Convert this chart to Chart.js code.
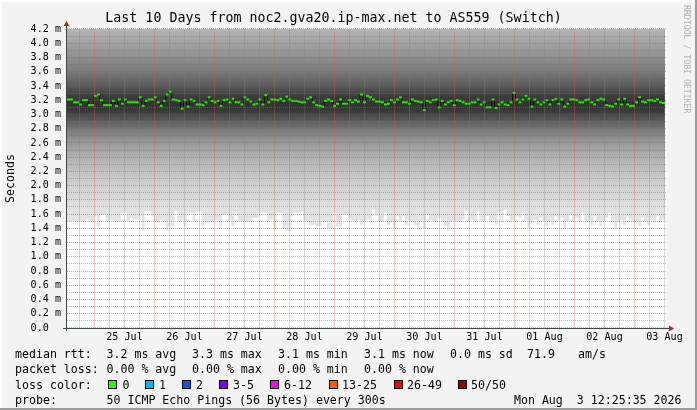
<!DOCTYPE html>
<html>
<head>
<meta charset="utf-8">
<script src="https://cdn.jsdelivr.net/npm/chart.js@4.4.0/dist/chart.umd.min.js"></script>
<style>
html, body { margin: 0; padding: 0; background: #f3f3f3; }
#wrap { position: relative; width: 697px; height: 410px; overflow: hidden; font-family: "DejaVu Sans Mono", monospace; }
#chart { position: absolute; left: 0; top: 0; }
.lg { position: absolute; font-size: 11.6px; line-height: 14px; color: #000; white-space: pre; }
.box { position: absolute; width: 7px; height: 7px; border: 1px solid #000; }
#credit { position: absolute; left: 682px; top: 5px; font-size: 8.2px; color: #b0b0b0; writing-mode: vertical-rl; white-space: pre; }
</style>
</head>
<body>
<div id="wrap">
  <canvas id="chart" width="697" height="410"></canvas>
  <div id="credit">RRDTOOL / TOBI OETIKER</div>

  <div class="lg" style="left:15px;top:346.5px">median rtt:</div>
  <div class="lg" style="left:106.5px;top:346.5px">3.2 ms avg</div>
  <div class="lg" style="left:192px;top:346.5px">3.3 ms max</div>
  <div class="lg" style="left:278px;top:346.5px">3.1 ms min</div>
  <div class="lg" style="left:364px;top:346.5px">3.1 ms now</div>
  <div class="lg" style="left:450px;top:346.5px">0.0 ms sd</div>
  <div class="lg" style="left:527px;top:346.5px">71.9</div>
  <div class="lg" style="left:578px;top:346.5px">am/s</div>

  <div class="lg" style="left:15px;top:362px">packet loss:</div>
  <div class="lg" style="left:106.5px;top:362px">0.00 % avg</div>
  <div class="lg" style="left:192px;top:362px">0.00 % max</div>
  <div class="lg" style="left:278px;top:362px">0.00 % min</div>
  <div class="lg" style="left:364px;top:362px">0.00 % now</div>

  <div class="lg" style="left:15px;top:377.5px">loss color:</div>
  <div id="lossRow"></div>

  <div class="lg" style="left:15px;top:393px">probe:</div>
  <div class="lg" style="left:106.5px;top:393px">50 ICMP Echo Pings (56 Bytes) every 300s</div>
  <div class="lg" style="right:15.5px;top:393px">Mon Aug  3 12:25:35 2026</div>
</div>

<script>
// hours counted from 24 Jul 00:00
var startHour = 13.0;
var slotHours = 1.196;

var xDayLabels = ["25 Jul", "26 Jul", "27 Jul", "28 Jul", "29 Jul", "30 Jul", "31 Jul", "01 Aug", "02 Aug", "03 Aug"];
var yTickLabels = ["0.0  ", "0.2 m", "0.4 m", "0.6 m", "0.8 m", "1.0 m", "1.2 m", "1.4 m", "1.6 m", "1.8 m", "2.0 m",
                   "2.2 m", "2.4 m", "2.6 m", "2.8 m", "3.0 m", "3.2 m", "3.4 m", "3.6 m", "3.8 m", "4.0 m", "4.2 m"];

// median rtt per step (ms)
var medianRtt = [
  3.21,3.21,3.17,3.17,3.14,3.20,3.20,3.13,3.13,3.26,
  3.28,3.20,3.13,3.13,3.13,3.19,3.12,3.21,3.15,3.21,
  3.17,3.17,3.17,3.17,3.24,3.12,3.19,3.21,3.21,3.24,
  3.17,3.12,3.19,3.28,3.32,3.21,3.20,3.19,3.08,3.20,
  3.11,3.21,3.19,3.14,3.14,3.13,3.17,3.24,3.19,3.17,
  3.19,3.12,3.20,3.21,3.17,3.22,3.17,3.17,3.14,3.24,
  3.21,3.18,3.14,3.15,3.21,3.14,3.27,3.17,3.21,3.21,
  3.20,3.22,3.19,3.25,3.21,3.19,3.19,3.18,3.17,3.17,
  3.22,3.24,3.17,3.13,3.12,3.11,3.19,3.21,3.19,3.12,
  3.15,3.21,3.15,3.15,3.20,3.17,3.20,3.18,3.28,3.17,
  3.26,3.24,3.21,3.18,3.18,3.17,3.14,3.15,3.20,3.17,
  3.21,3.24,3.17,3.17,3.15,3.21,3.19,3.18,3.17,3.06,
  3.19,3.17,3.20,3.21,3.10,3.19,3.14,3.17,3.19,3.13,
  3.20,3.19,3.17,3.15,3.15,3.17,3.17,3.21,3.14,3.17,
  3.10,3.10,3.21,3.09,3.14,3.17,3.14,3.13,3.17,3.30,
  3.21,3.17,3.21,3.26,3.22,3.11,3.21,3.17,3.14,3.17,
  3.20,3.14,3.20,3.22,3.15,3.21,3.11,3.15,3.21,3.21,
  3.20,3.17,3.17,3.20,3.21,3.17,3.14,3.20,3.22,3.21,
  3.13,3.12,3.11,3.15,3.21,3.14,3.22,3.14,3.12,3.12,
  3.17,3.24,3.18,3.17,3.20,3.20,3.19,3.21,3.17,3.16
];

// lowest ping per step (ms), the lower edge of the smoke
var minRtt = [
  1.50,1.50,1.50,1.48,1.50,1.50,1.52,1.48,1.48,1.57,
  1.43,1.59,1.59,1.52,1.52,1.50,1.50,1.50,1.62,1.62,
  1.50,1.55,1.52,1.52,1.57,1.36,1.64,1.64,1.57,1.48,
  1.48,1.52,1.52,1.36,1.43,1.43,1.64,1.52,1.52,1.43,
  1.62,1.62,1.52,1.64,1.64,1.43,1.48,1.48,1.48,1.52,
  1.52,1.43,1.59,1.59,1.52,1.43,1.62,1.50,1.50,1.48,
  1.48,1.48,1.55,1.55,1.62,1.62,1.62,1.52,1.52,1.38,
  1.62,1.62,1.40,1.36,1.36,1.57,1.62,1.62,1.62,1.50,
  1.50,1.45,1.45,1.43,1.43,1.50,1.50,1.40,1.40,1.62,
  1.43,1.43,1.59,1.59,1.55,1.50,1.48,1.52,1.45,1.52,
  1.52,1.48,1.66,1.57,1.50,1.48,1.62,1.45,1.48,1.40,
  1.57,1.50,1.57,1.45,1.50,1.52,1.45,1.38,1.52,1.40,
  1.59,1.52,1.50,1.48,1.55,1.50,1.43,1.36,1.48,1.50,
  1.50,1.50,1.52,1.65,1.50,1.52,1.48,1.64,1.50,1.52,
  1.57,1.50,1.52,1.45,1.62,1.48,1.66,1.57,1.48,1.52,
  1.57,1.55,1.62,1.52,1.40,1.48,1.52,1.45,1.55,1.50,
  1.43,1.50,1.45,1.57,1.52,1.55,1.40,1.50,1.59,1.52,
  1.55,1.50,1.62,1.48,1.52,1.45,1.57,1.50,1.43,1.52,
  1.55,1.62,1.50,1.38,1.48,1.52,1.45,1.57,1.50,1.48,
  1.52,1.43,1.55,1.50,1.45,1.52,1.48,1.57,1.50,1.52
];

// shading of the smoke by rtt level
var smokeStops  = [1.30, 1.70, 2.00, 2.20, 2.40, 2.60, 2.80, 2.95, 3.05, 3.15, 3.25, 3.35, 3.45, 3.60, 3.80, 4.00, 4.20];
var smokeShades = ["#e8e8e8", "#e0e0e0", "#d0d0d0", "#c2c2c2", "#b0b0b0", "#989898", "#767676", "#525252",
                   "#3a3a3a", "#323232", "#3c3c3c", "#505050", "#626262", "#7a7a7a", "#8e8e8e", "#a2a2a2", "#b4b4b4"];

var lossLabels = ["0", "1", "2", "3-5", "6-12", "13-25", "26-49", "50/50"];
var lossColors = ["#26ff00", "#00b8ff", "#0059ff", "#7e00ff", "#ff00ff", "#ff5500", "#ff0000", "#a10000"];
var lossBoxX = [108, 145, 182, 219, 270, 329, 394, 458];
var lossTextX = [122.5, 159, 196, 233, 284, 342, 407, 471];

var row = document.getElementById('lossRow');
lossLabels.forEach(function(lbl, i){
    var b = document.createElement('div');
    b.className = 'box';
    b.style.left = lossBoxX[i] + 'px';
    b.style.top = '380px';
    b.style.background = lossColors[i];
    row.appendChild(b);
    var t = document.createElement('div');
    t.className = 'lg';
    t.style.left = lossTextX[i] + 'px';
    t.style.top = '377.5px';
    t.textContent = lbl;
    row.appendChild(t);
});

function stepPoints(values){
    var pts = values.map(function(v, i){ return {x: startHour + i * slotHours, y: v}; });
    pts.push({x: startHour + values.length * slotHours, y: values[values.length - 1]});
    return pts;
}
function centerPoints(values){
    return values.map(function(v, i){ return {x: startHour + (i + 0.5) * slotHours, y: v}; });
}

var majorGrid = 'rgba(235,50,50,0.5)';
var minorGrid = 'rgba(120,120,120,0.5)';

var rrdFrame = {
    id: 'rrdFrame',
    beforeDraw: function(chart){
        var ctx = chart.ctx, a = chart.chartArea;
        ctx.save();
        ctx.fillStyle = '#ffffff';
        ctx.fillRect(a.left, a.top, a.right - a.left, a.bottom - a.top);
        ctx.restore();
    },
    afterDraw: function(chart){
        var ctx = chart.ctx, a = chart.chartArea;
        ctx.save();
        ctx.lineWidth = 1;
        ctx.strokeStyle = '#3c4844';
        ctx.beginPath();
        ctx.moveTo(a.left - 0.5, a.bottom + 3);
        ctx.lineTo(a.left - 0.5, a.top - 3);
        ctx.moveTo(a.left - 4, a.bottom + 0.5);
        ctx.lineTo(a.right + 2, a.bottom + 0.5);
        ctx.stroke();
        ctx.fillStyle = '#a03030';
        ctx.beginPath();
        ctx.moveTo(a.left - 3.5, a.top - 3);
        ctx.lineTo(a.left + 2.5, a.top - 3);
        ctx.lineTo(a.left - 0.5, a.top - 8);
        ctx.closePath();
        ctx.fill();
        ctx.beginPath();
        ctx.moveTo(a.right + 2, a.bottom - 2.5);
        ctx.lineTo(a.right + 2, a.bottom + 3.5);
        ctx.lineTo(a.right + 7, a.bottom + 0.5);
        ctx.closePath();
        ctx.fill();
        // frame
        ctx.fillStyle = '#ffffff';
        ctx.fillRect(0, 0, 697, 2);
        ctx.fillRect(0, 0, 2, 410);
        ctx.fillStyle = '#9c9c9c';
        ctx.fillRect(695, 0, 2, 410);
        ctx.fillRect(0, 408, 697, 2);
        ctx.restore();
    }
};

var ctx1 = document.getElementById('chart');
var smokeChart = new Chart(ctx1, {
    type: 'line',
    data: {
        datasets: [{
            label: 'smoke',
            order: 3,
            data: stepPoints(minRtt),
            stepped: true,
            fill: 'end',
            borderWidth: 0,
            pointRadius: 0,
            backgroundColor: function(context){
                var chart = context.chart;
                if (!chart.chartArea) return '#cccccc';
                var y = chart.scales.y;
                var lo = smokeStops[0], hi = smokeStops[smokeStops.length - 1];
                var g = chart.ctx.createLinearGradient(0, y.getPixelForValue(lo), 0, y.getPixelForValue(hi));
                smokeStops.forEach(function(v, i){ g.addColorStop((v - lo) / (hi - lo), smokeShades[i]); });
                return g;
            }
        }, {
            label: 'median step',
            order: 2,
            data: stepPoints(medianRtt),
            stepped: true,
            fill: false,
            borderColor: 'rgba(10,10,10,0.9)',
            borderWidth: 1,
            pointRadius: 0
        }, {
            label: 'median',
            order: 1,
            data: centerPoints(medianRtt),
            showLine: false,
            pointStyle: 'line',
            pointRadius: 1.5,
            pointBorderWidth: 2,
            pointBorderColor: '#26f000',
            pointHoverRadius: 1.5
        }]
    },
    options: {
        responsive: false,
        animation: false,
        devicePixelRatio: 1,
        layout: { padding: { top: 0, left: 0, right: 30, bottom: 62 } },
        plugins: {
            legend: { display: false },
            tooltip: { enabled: false },
            title: {
                display: true,
                text: 'Last 10 Days from noc2.gva20.ip-max.net to AS559 (Switch)',
                color: '#000',
                font: { family: 'DejaVu Sans Mono', size: 13.3, weight: 'normal' },
                padding: { top: 11, bottom: 2 }
            }
        },
        scales: {
            x: {
                type: 'linear',
                min: startHour,
                max: startHour + 240,
                afterBuildTicks: function(scale){
                    var t = [];
                    for (var hh = Math.ceil(scale.min / 6) * 6; hh <= scale.max; hh += 6) t.push({value: hh});
                    scale.ticks = t;
                },
                afterFit: function(scale){ scale.height = 20; },
                ticks: {
                    autoSkip: false,
                    maxRotation: 0,
                    padding: 3,
                    color: '#000',
                    font: { family: 'DejaVu Sans Mono', size: 10.1 },
                    callback: function(value){
                        if (value % 24 === 12) return xDayLabels[(value - 36) / 24];
                        return '';
                    }
                },
                grid: {
                    z: 1,
                    drawTicks: false,
                    lineWidth: 1,
                    color: function(c){
                        if (c.tick && c.tick.value % 24 === 0) return 'rgba(235,80,80,0.33)';
                        return 'rgba(130,130,130,0.3)';
                    }
                },
                border: { display: false }
            },
            y: {
                min: 0,
                max: 4.2,
                afterBuildTicks: function(scale){
                    var t = [];
                    for (var k = 0; k <= 42; k++) t.push({value: k / 10});
                    scale.ticks = t;
                },
                afterFit: function(scale){ scale.width = 67; },
                ticks: {
                    autoSkip: false,
                    padding: 6,
                    color: '#000',
                    font: { family: 'DejaVu Sans Mono', size: 10.1 },
                    callback: function(value){
                        var k = Math.round(value * 10);
                        return k % 2 === 0 ? yTickLabels[k / 2] : '';
                    }
                },
                grid: {
                    z: 1,
                    drawTicks: false,
                    color: function(c){
                        if (c.tick && Math.round(c.tick.value * 10) % 2 === 0) return majorGrid;
                        return minorGrid;
                    }
                },
                border: { display: false, dash: [1, 1] },
                title: {
                    display: true,
                    text: 'Seconds',
                    color: '#000',
                    font: { family: 'DejaVu Sans Mono', size: 11.6 },
                    padding: { top: 4, bottom: 0 }
                }
            }
        }
    },
    plugins: [rrdFrame]
});
</script>
</body>
</html>
